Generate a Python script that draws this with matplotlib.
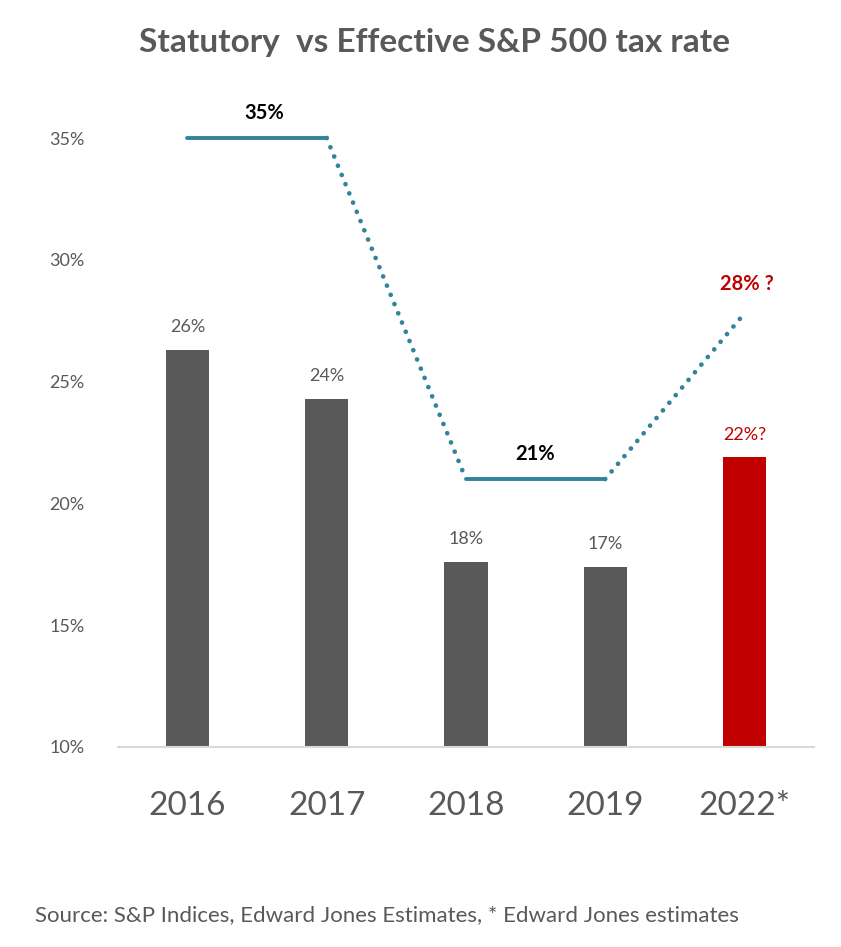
import matplotlib.pyplot as plt

years = ["2016", "2017", "2018", "2019", "2022*"]
effective = [26.3, 24.3, 17.6, 17.4, 21.9]
effective_labels = ["26%", "24%", "18%", "17%", "22%?"]
statutory = [35, 35, 21, 21, 27.8]

grey = "#595959"
red = "#C00000"
teal = "#31849B"
bar_colors = [grey, grey, grey, grey, red]
label_colors = [grey, grey, grey, grey, red]

plt.rcParams['font.family'] = ['Lato', 'DejaVu Sans']

fig = plt.figure(figsize=(8.41, 9.47), dpi=100)
ax = fig.add_axes([0.140, 0.2112, 0.828, 0.6945])

x = list(range(len(years)))
ax.bar(x, effective, width=0.31, color=bar_colors, bottom=0, zorder=2)

for i, (v, lab) in enumerate(zip(effective, effective_labels)):
    ax.text(i, v + 0.6, lab, ha='center', va='bottom', fontsize=13,
            color=label_colors[i])

# statutory rate line: solid where rate is in effect, dotted for changes
solid_kw = dict(color=teal, lw=2.8, solid_capstyle='round', zorder=3)
dot_kw = dict(color=teal, lw=3.4, linestyle=(0, (0.01, 2.1)),
              dash_capstyle='round', zorder=3)
ax.plot(x[0:2], statutory[0:2], **solid_kw)
ax.plot(x[1:3], statutory[1:3], **dot_kw)
ax.plot(x[2:4], statutory[2:4], **solid_kw)
ax.plot(x[3:5], statutory[3:5], **dot_kw)

ax.text(0.55, 35.6, "35%", ha='center', va='bottom', fontsize=14.5,
        fontweight='bold', color='black')
ax.text(2.5, 21.6, "21%", ha='center', va='bottom', fontsize=14.5,
        fontweight='bold', color='black')
ax.text(4.02, 28.6, "28% ?", ha='center', va='bottom', fontsize=14.5,
        fontweight='bold', color=red)

ax.set_xlim(-0.5, 4.5)
ax.set_ylim(10, 37)
ax.set_yticks([10, 15, 20, 25, 30, 35])
ax.set_yticklabels(["10%", "15%", "20%", "25%", "30%", "35%"])
ax.set_xticks(x)
ax.set_xticklabels(years)
ax.tick_params(axis='y', length=0, pad=24, labelsize=13, labelcolor=grey)
ax.tick_params(axis='x', length=0, pad=32, labelsize=24, labelcolor=grey)

for s in ['top', 'right', 'left']:
    ax.spines[s].set_visible(False)
ax.spines['bottom'].set_color('#D9D9D9')
ax.spines['bottom'].set_linewidth(1.5)

fig.text(0.517, 0.955, "Statutory  vs Effective S&P 500 tax rate", ha='center',
         va='center', fontsize=24, fontweight='bold', color=grey)
fig.text(0.042, 0.034, "Source: S&P Indices, Edward Jones Estimates, * Edward Jones estimates",
         ha='left', va='center', fontsize=16, color=grey)

fig.savefig("out.png", dpi=100)
